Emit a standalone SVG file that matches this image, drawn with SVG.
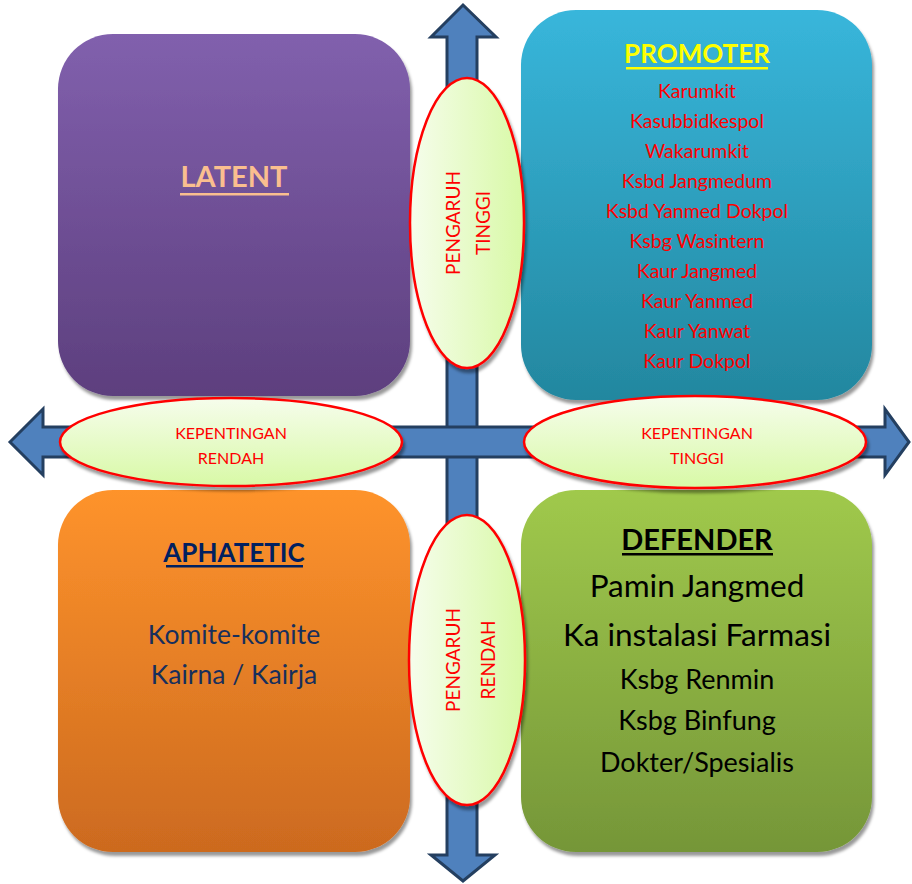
<svg xmlns="http://www.w3.org/2000/svg" width="912" height="884" viewBox="0 0 912 884">
  <defs>
    <linearGradient id="gLatent" x1="0" y1="0" x2="0" y2="1">
      <stop offset="0" stop-color="#8160ad"/>
      <stop offset="1" stop-color="#5d3f7e"/>
    </linearGradient>
    <linearGradient id="gPromoter" x1="0" y1="0" x2="0" y2="1">
      <stop offset="0" stop-color="#38b6db"/>
      <stop offset="1" stop-color="#23879f"/>
    </linearGradient>
    <linearGradient id="gAphatetic" x1="0" y1="0" x2="0" y2="1">
      <stop offset="0" stop-color="#fe932c"/>
      <stop offset="1" stop-color="#cc6a1f"/>
    </linearGradient>
    <linearGradient id="gDefender" x1="0" y1="0" x2="0" y2="1">
      <stop offset="0" stop-color="#a0c94c"/>
      <stop offset="1" stop-color="#759638"/>
    </linearGradient>
    <linearGradient id="gEllV" x1="0" y1="0" x2="1" y2="0">
      <stop offset="0" stop-color="#f6fdec"/>
      <stop offset="1" stop-color="#d8f9a6"/>
    </linearGradient>
    <linearGradient id="gEllH" x1="0" y1="0" x2="0" y2="1">
      <stop offset="0" stop-color="#f6fdec"/>
      <stop offset="1" stop-color="#d8f9a6"/>
    </linearGradient>
    <filter id="shadow" x="-10%" y="-10%" width="125%" height="125%">
      <feDropShadow dx="2" dy="4" stdDeviation="1.5" flood-color="#000" flood-opacity="0.4"/>
    </filter>
  </defs>
  <style>
    .arrow { fill: #4f81bd; stroke: #243f60; stroke-width: 3; stroke-linejoin: miter; }
    .ell { stroke: #ff0000; stroke-width: 2.5; filter: url(#shadow); }
    .box { filter: url(#shadow); }
    text { font-family: Lato, "Open Sans", "Liberation Sans", sans-serif; text-anchor: middle; }
    .red { fill: #ff0000; }
    .list { font-size: 19.5px; }
    .axis { font-size: 16px; }
    .vaxis { font-size: 19px; }
    .navy { fill: #172f5c; font-size: 26.5px; }
    .big { fill: #000; font-size: 31.5px; }
    .mid { fill: #000; font-size: 27px; }
  </style>

  <!-- double-headed axes -->
  <g id="connectors">
    <polygon class="arrow" points="463,5 496,37 477,37 477,855 495,855 463,881 431,855 447,855 447,37 431,37"/>
    <polygon class="arrow" points="10,442 43,409 43,427 885,427 885,409 909,442 885,475 885,457 43,457 43,475"/>
  </g>

  <!-- quadrant boxes -->
  <g id="latent">
    <rect class="box" x="58" y="34" width="352" height="362" rx="55" fill="url(#gLatent)"/>
    <text x="234" y="187" font-size="29" font-weight="bold" fill="#fabf8f">LATENT</text>
    <rect x="180" y="193" width="109" height="2.5" fill="#fabf8f"/>
  </g>

  <g id="promoter">
    <rect class="box" x="521" y="10" width="351" height="390" rx="55" fill="url(#gPromoter)"/>
    <text x="697" y="63" font-size="26" font-weight="bold" fill="#ffff00">PROMOTER</text>
    <rect x="626" y="67" width="142" height="2.5" fill="#ffff00"/>
    <g class="red list">
      <text x="697" y="98">Karumkit</text>
      <text x="697" y="128">Kasubbidkespol</text>
      <text x="697" y="158">Wakarumkit</text>
      <text x="697" y="188">Ksbd Jangmedum</text>
      <text x="697" y="218">Ksbd Yanmed Dokpol</text>
      <text x="697" y="248">Ksbg Wasintern</text>
      <text x="697" y="278">Kaur Jangmed</text>
      <text x="697" y="308">Kaur Yanmed</text>
      <text x="697" y="338">Kaur Yanwat</text>
      <text x="697" y="368">Kaur Dokpol</text>
    </g>
  </g>

  <g id="aphatetic">
    <rect class="box" x="58" y="490" width="352" height="362" rx="55" fill="url(#gAphatetic)"/>
    <text x="234" y="562" font-size="26" font-weight="bold" fill="#002060">APHATETIC</text>
    <rect x="166" y="565" width="137" height="2.5" fill="#002060"/>
    <text class="navy" x="234" y="644">Komite-komite</text>
    <text class="navy" x="234" y="684">Kairna / Kairja</text>
  </g>

  <g id="defender">
    <rect class="box" x="521" y="490" width="351" height="362" rx="55" fill="url(#gDefender)"/>
    <text x="697" y="550" font-size="29" font-weight="bold" fill="#000">DEFENDER</text>
    <rect x="622" y="553" width="151" height="2.5" fill="#000"/>
    <text class="big" x="697" y="597">Pamin Jangmed</text>
    <text class="big" x="697" y="646">Ka instalasi Farmasi</text>
    <text class="mid" x="697" y="689">Ksbg Renmin</text>
    <text class="mid" x="697" y="730">Ksbg Binfung</text>
    <text class="mid" x="697" y="772">Dokter/Spesialis</text>
  </g>

  <!-- axis labels -->
  <g id="pengaruh-tinggi">
    <ellipse class="ell" cx="467" cy="223" rx="57" ry="145" fill="url(#gEllV)"/>
    <g class="red vaxis" transform="rotate(-90 467 223)">
      <text x="467" y="216">PENGARUH</text>
      <text x="467" y="246">TINGGI</text>
    </g>
  </g>

  <g id="pengaruh-rendah">
    <ellipse class="ell" cx="467" cy="660" rx="58" ry="145" fill="url(#gEllV)"/>
    <g class="red vaxis" transform="rotate(-90 467 660)">
      <text x="467" y="653">PENGARUH</text>
      <text x="467" y="688">RENDAH</text>
    </g>
  </g>

  <g id="kepentingan-rendah">
    <ellipse class="ell" cx="231" cy="442" rx="171" ry="44" fill="url(#gEllH)"/>
    <text class="red axis" x="231" y="439">KEPENTINGAN</text>
    <text class="red axis" x="231" y="464">RENDAH</text>
  </g>

  <g id="kepentingan-tinggi">
    <ellipse class="ell" cx="695" cy="442" rx="171" ry="46" fill="url(#gEllH)"/>
    <text class="red axis" x="697" y="439">KEPENTINGAN</text>
    <text class="red axis" x="697" y="464">TINGGI</text>
  </g>
</svg>
